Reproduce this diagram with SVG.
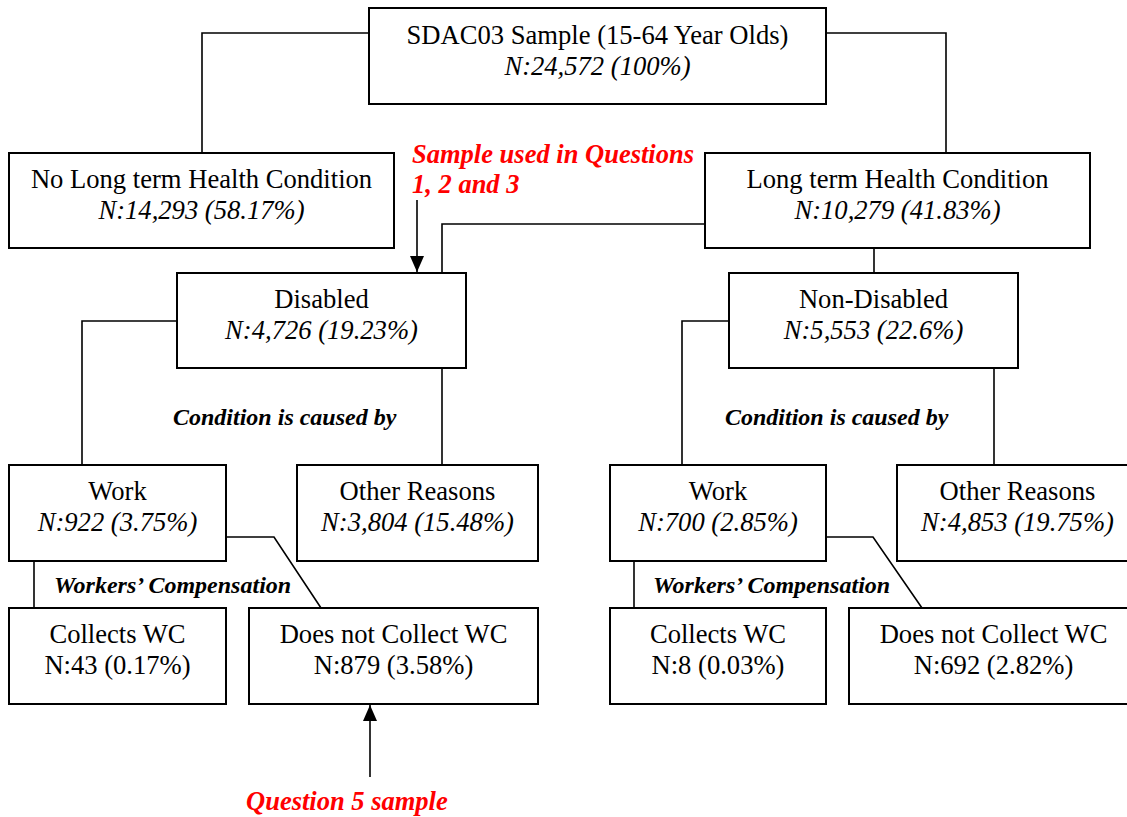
<svg xmlns="http://www.w3.org/2000/svg" width="1127" height="817" viewBox="0 0 1127 817">
<defs>
<marker id="arr" viewBox="0 0 16 14" refX="16" refY="7" markerWidth="16" markerHeight="14" markerUnits="userSpaceOnUse" orient="auto">
<path d="M0,0 L16,7 L0,14 z" fill="#000"/>
</marker>
</defs>
<style>
.box{fill:#fff;stroke:#000;stroke-width:2}
.t{font-family:"Liberation Serif","Times New Roman",serif;font-size:26.6px;fill:#000;text-anchor:middle}
.i{font-style:italic}
.lbl{font-family:"Liberation Serif","Times New Roman",serif;font-size:24px;font-weight:bold;font-style:italic;fill:#000}
.red{font-family:"Liberation Serif","Times New Roman",serif;font-size:26.5px;font-weight:bold;font-style:italic;fill:#ff0000}
.c{fill:none;stroke:#000;stroke-width:1.6}
</style>
<rect width="1127" height="817" fill="#fff"/>
<g id="connectors">
<path class="c" d="M369,33 H202 V153"/>
<path class="c" d="M826,33 H946 V153"/>
<path class="c" d="M705,224 H442 V273"/>
<path class="c" d="M874,248 V273"/>
<path class="c" d="M177,321 H82 V465"/>
<path class="c" d="M442,368 V465"/>
<path class="c" d="M729,321 H682 V465"/>
<path class="c" d="M994,368 V465"/>
<path class="c" d="M226,537 H274 L321,608"/>
<path class="c" d="M34,561 V608"/>
<path class="c" d="M826,537 H873 L922,608"/>
<path class="c" d="M634,561 V608"/>
<path class="c" d="M417,200 V272" marker-end="url(#arr)"/>
<path class="c" d="M370,777 V705" marker-end="url(#arr)"/>
</g>
<g id="n-top"><rect class="box" x="369" y="8" width="457" height="96"/>
<text class="t" x="597.5" y="44">SDAC03 Sample (15-64 Year Olds)</text>
<text class="t i" x="597.5" y="75">N:24,572 (100%)</text></g>
<g id="n-nolt"><rect class="box" x="9" y="153" width="385" height="95"/>
<text class="t" x="201.5" y="188">No Long term Health Condition</text>
<text class="t i" x="201.5" y="219">N:14,293 (58.17%)</text></g>
<g id="n-lt"><rect class="box" x="705" y="153" width="385" height="95"/>
<text class="t" x="897.5" y="188">Long term Health Condition</text>
<text class="t i" x="897.5" y="219">N:10,279 (41.83%)</text></g>
<g id="n-dis"><rect class="box" x="177" y="273" width="289" height="95"/>
<text class="t" x="321.5" y="308">Disabled</text>
<text class="t i" x="321.5" y="339">N:4,726 (19.23%)</text></g>
<g id="n-nondis"><rect class="box" x="729" y="273" width="289" height="95"/>
<text class="t" x="873.5" y="308">Non-Disabled</text>
<text class="t i" x="873.5" y="339">N:5,553 (22.6%)</text></g>
<g id="n-workL"><rect class="box" x="9" y="465" width="217" height="96"/>
<text class="t" x="117.5" y="500">Work</text>
<text class="t i" x="117.5" y="531">N:922 (3.75%)</text></g>
<g id="n-otherL"><rect class="box" x="297" y="465" width="241" height="96"/>
<text class="t" x="417.5" y="500">Other Reasons</text>
<text class="t i" x="417.5" y="531">N:3,804 (15.48%)</text></g>
<g id="n-workR"><rect class="box" x="610" y="465" width="216" height="96"/>
<text class="t" x="718" y="500">Work</text>
<text class="t i" x="718" y="531">N:700 (2.85%)</text></g>
<g id="n-otherR"><rect class="box" x="897" y="465" width="241" height="96"/>
<text class="t" x="1017.5" y="500">Other Reasons</text>
<text class="t i" x="1017.5" y="531">N:4,853 (19.75%)</text></g>
<g id="n-colL"><rect class="box" x="9" y="608" width="217" height="96"/>
<text class="t" x="117.5" y="643">Collects WC</text>
<text class="t" x="117.5" y="674">N:43 (0.17%)</text></g>
<g id="n-notL"><rect class="box" x="249" y="608" width="289" height="96"/>
<text class="t" x="393.5" y="643">Does not Collect WC</text>
<text class="t" x="393.5" y="674">N:879 (3.58%)</text></g>
<g id="n-colR"><rect class="box" x="610" y="608" width="216" height="96"/>
<text class="t" x="718" y="643">Collects WC</text>
<text class="t" x="718" y="674">N:8 (0.03%)</text></g>
<g id="n-notR"><rect class="box" x="849" y="608" width="289" height="96"/>
<text class="t" x="993.5" y="643">Does not Collect WC</text>
<text class="t" x="993.5" y="674">N:692 (2.82%)</text></g>
<g id="labels">
<text class="lbl" x="173" y="425">Condition is caused by</text>
<text class="lbl" x="725" y="425">Condition is caused by</text>
<text class="lbl" x="54" y="593">Workers’ Compensation</text>
<text class="lbl" x="653" y="593">Workers’ Compensation</text>
<text class="red" x="412" y="163">Sample used in Questions</text>
<text class="red" x="412" y="193">1, 2 and 3</text>
<text class="red" x="246" y="810">Question 5 sample</text>
</g>
</svg>
